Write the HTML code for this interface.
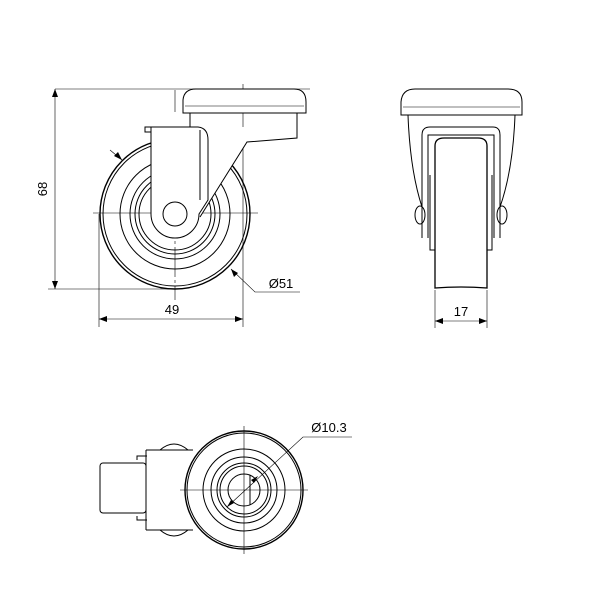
<!DOCTYPE html>
<html><head><style>html,body{margin:0;padding:0;background:#fff}</style></head><body>
<svg width="600" height="600" viewBox="0 0 600 600" xmlns="http://www.w3.org/2000/svg" font-family="Liberation Sans, sans-serif">
<g fill="none" stroke="#000" stroke-width="1">
<!-- SIDE VIEW -->
<g stroke-width="0.6">
<line x1="55" y1="89" x2="310" y2="89"/>
<line x1="48" y1="289" x2="178" y2="289"/>
<line x1="55" y1="89" x2="55" y2="289"/>
<line x1="99" y1="214" x2="99" y2="327"/>
<line x1="243" y1="84" x2="243" y2="327"/>
<line x1="99" y1="319" x2="243" y2="319"/>
<line x1="93" y1="213" x2="258" y2="213"/>
<line x1="175" y1="130" x2="175" y2="300" stroke-dasharray="30,3,3,3"/>
<polyline points="231,269 255,292 300,292"/>
<line x1="110" y1="150" x2="122" y2="160"/>
</g>
<polygon points="55,89 52,97 58,97" fill="#000" stroke="none"/>
<polygon points="55,289 52,281 58,281" fill="#000" stroke="none"/>
<polygon points="99,319 107,316 107,322" fill="#000" stroke="none"/>
<polygon points="243,319 235,316 235,322" fill="#000" stroke="none"/>
<polygon points="231,269 234,277 238,273" fill="#000" stroke="none"/>
<polygon points="122,160 114,156 118,152" fill="#000" stroke="none"/>
<circle cx="175" cy="214" r="75" stroke-width="1.4"/>
<circle cx="175" cy="214" r="72"/>
<circle cx="175" cy="214" r="55"/>
<circle cx="175" cy="214" r="45"/>
<circle cx="175" cy="214" r="40"/>
<circle cx="175" cy="214" r="36"/>
<path d="M190,113 L190,127 L297,127 L297,138 L247,142 L200,217 L199,214 L175,238 L151,214 L151,127 L190,127" fill="#fff" stroke="none"/>
<path d="M297,113 L297,138 L247,142 L200,217"/>
<path d="M190,113 L190,127"/>
<path d="M151,127 L151,214 A24,24 0 0 0 199,214 L208,200 L208,140 Q208,128 198,127 Z" fill="#fff"/>
<line x1="200" y1="130" x2="200" y2="200"/>
<path d="M151,127 L145,127 L145,132 L151,132"/>
<circle cx="175" cy="214" r="12" fill="#fff"/>
<path d="M183,113 L183,100 Q184,89 196,89 L294,89 Q306,89 306,102 L306,113 Z" fill="#fff"/>
<line x1="185" y1="106" x2="304" y2="106" stroke-width="0.6"/>
<line x1="175" y1="90" x2="175" y2="112" stroke-width="0.6"/>
<!-- FRONT VIEW -->
<path d="M401,115 L401,102 Q402,89 415,89 L508,89 Q522,89 522,102 L522,115 Z"/>
<line x1="403" y1="107" x2="520" y2="107" stroke-width="0.6"/>
<path d="M408,115 Q410,170 422,207"/>
<path d="M515,115 Q513,170 500,207"/>
<path d="M422,238 L422,135 Q422,127 430,127 L493,127 Q500,127 500,135 L500,238"/>
<path d="M428,238 L428,135 L494,135 L494,238"/>
<path d="M430,175 L430,250 L435,250 M492,175 L492,250 L487,250"/>
<ellipse cx="420" cy="215" rx="5" ry="9"/>
<ellipse cx="502" cy="215" rx="5" ry="9"/>
<path d="M435,288 L435,146 Q435,138 444,138 L478,138 Q487,138 487,146 L487,288 Q461,286 435,288 Z" fill="#fff" stroke-width="1.3"/>
<g stroke-width="0.6">
<line x1="435" y1="290" x2="435" y2="328"/>
<line x1="487" y1="290" x2="487" y2="328"/>
<line x1="435" y1="321" x2="487" y2="321"/>
</g>
<polygon points="435,321 443,318 443,324" fill="#000" stroke="none"/>
<polygon points="487,321 479,318 479,324" fill="#000" stroke="none"/>
<!-- BOTTOM VIEW -->
<rect x="100" y="463" width="46" height="50" rx="3"/>
<path d="M137,460 L137,456 L147,456 M137,516 L137,520 L147,520"/>
<path d="M160,450 Q174,438 188,450"/>
<path d="M160,530 Q174,542 188,530"/>
<path d="M146,450 L193,450 M146,530 L193,530 M146,450 L146,530"/>
<circle cx="244" cy="490" r="59" stroke-width="1.4" fill="#fff"/>
<circle cx="244" cy="490" r="57"/>
<circle cx="244" cy="490" r="41"/>
<circle cx="244" cy="490" r="33"/>
<circle cx="244" cy="490" r="27"/>
<circle cx="244" cy="490" r="24"/>
<circle cx="244" cy="490" r="16"/>
<line x1="250" y1="475" x2="250" y2="505"/>
<g stroke-width="0.6">
<line x1="180" y1="490" x2="308" y2="490"/>
<line x1="244" y1="426" x2="244" y2="554"/>
<polyline points="227,507 303,437 352,437"/>
</g>
<polygon points="227,507 231,500 234,503" fill="#000" stroke="none"/>
<polygon points="258,476 254,483 251,480" fill="#000" stroke="none"/>
</g>
<g font-size="13" fill="#000">
<text x="47" y="189" transform="rotate(-90 47 189)" text-anchor="middle">68</text>
<text x="172" y="314" text-anchor="middle">49</text>
<text x="281" y="288" text-anchor="middle">Ø51</text>
<text x="461" y="316" text-anchor="middle">17</text>
<text x="329" y="432" text-anchor="middle">Ø10.3</text>
</g>
</svg>
</body></html>
